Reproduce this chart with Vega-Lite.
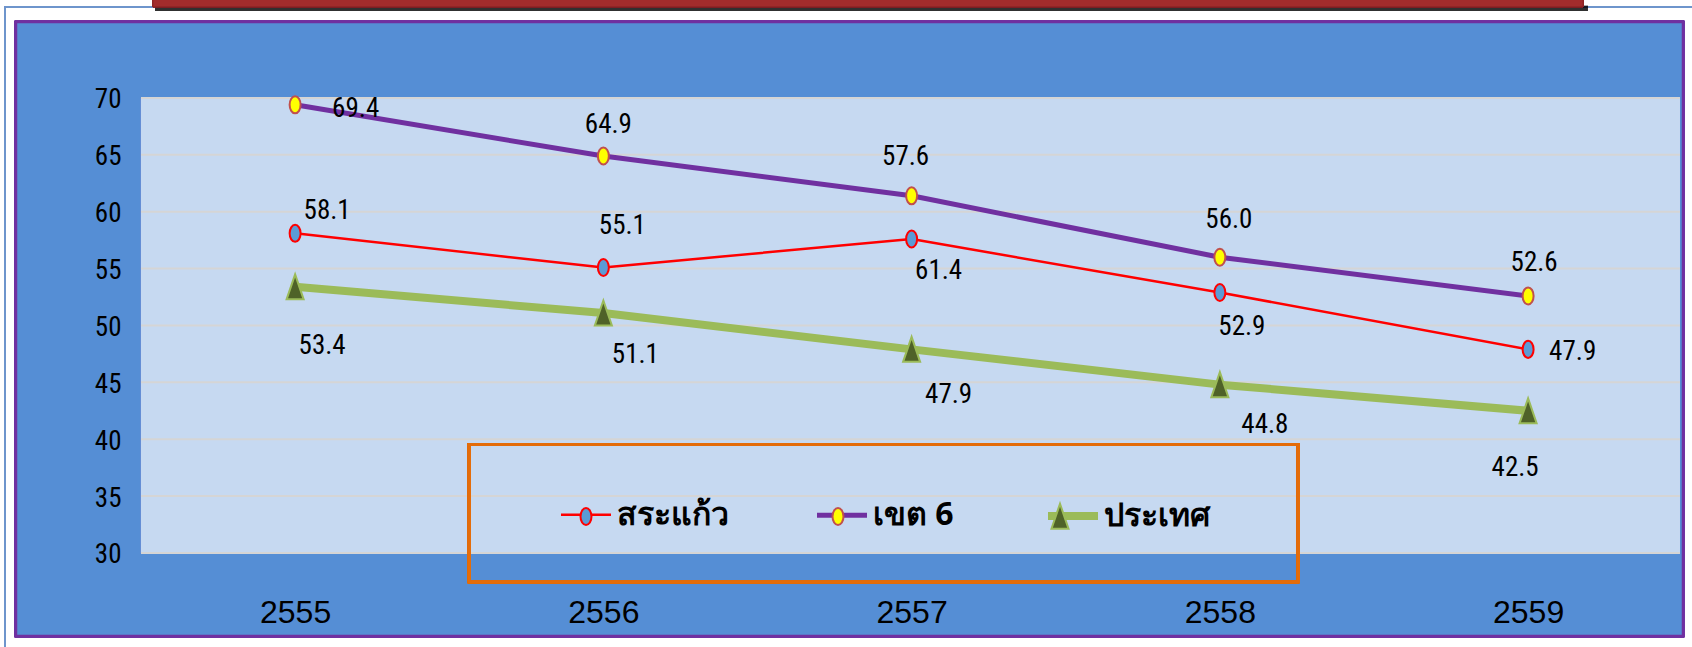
{
  "$schema": "https://vega.github.io/schema/vega-lite/v6.json",
  "width": 1692,
  "height": 647,
  "autosize": "none",
  "padding": 0,
  "background": "#FFFFFF",
  "config": {
    "view": {"stroke": null},
    "axisX": {
      "offset": -35, "domain": false, "ticks": false, "grid": false,
      "labelFont": "Liberation Sans", "labelFontSize": 32, "labelColor": "#000000",
      "labelPadding": 0, "labelBaseline": "middle", "labelFlush": false, "labelOverlap": false
    },
    "axisY": {
      "offset": -121, "domain": false, "ticks": false, "grid": false,
      "labelFont": "Roboto Condensed", "labelFontSize": 27, "labelColor": "#000000",
      "labelPadding": 0, "labelOffset": 2, "labelFlush": false, "labelOverlap": false
    },
    "legend": {
      "orient": "none", "legendX": 557, "legendY": 487, "direction": "horizontal", "columns": 3,
      "padding": 0, "labelFont": "Noto Sans", "labelFontSize": 32, "labelFontWeight": "bold",
      "labelColor": "#000000", "labelOffset": 2, "columnPadding": 78, "labelLimit": 0
    },
    "text": {"font": "Roboto Condensed", "fontSize": 27, "fill": "#000000", "baseline": "middle"}
  },
  "data": {
    "values": [
      {"year": 2555, "series": "สระแก้ว", "value": 58.1, "label": "58.1"},
      {"year": 2556, "series": "สระแก้ว", "value": 55.1, "label": "55.1"},
      {"year": 2557, "series": "สระแก้ว", "value": 57.6, "label": "61.4"},
      {"year": 2558, "series": "สระแก้ว", "value": 52.9, "label": "52.9"},
      {"year": 2559, "series": "สระแก้ว", "value": 47.9, "label": "47.9"},
      {"year": 2555, "series": "เขต 6", "value": 69.4, "label": "69.4"},
      {"year": 2556, "series": "เขต 6", "value": 64.9, "label": "64.9"},
      {"year": 2557, "series": "เขต 6", "value": 61.4, "label": "57.6"},
      {"year": 2558, "series": "เขต 6", "value": 56.0, "label": "56.0"},
      {"year": 2559, "series": "เขต 6", "value": 52.6, "label": "52.6"},
      {"year": 2555, "series": "ประเทศ", "value": 53.4, "label": "53.4"},
      {"year": 2556, "series": "ประเทศ", "value": 51.1, "label": "51.1"},
      {"year": 2557, "series": "ประเทศ", "value": 47.9, "label": "47.9"},
      {"year": 2558, "series": "ประเทศ", "value": 44.8, "label": "44.8"},
      {"year": 2559, "series": "ประเทศ", "value": 42.5, "label": "42.5"}
    ]
  },
  "layer": [
    {
      "mark": {"type": "rect", "fill": "#558ED5", "stroke": "#7030A0", "strokeWidth": 2.5},
      "encoding": {
        "x": {"datum": 2554.0945, "type": "quantitative", "scale": {"domain": [2554.0426, 2559.5317], "nice": false, "zero": false}},
        "x2": {"datum": 2559.5025},
        "y": {"datum": 76.681, "type": "quantitative", "scale": {"domain": [21.736, 78.615], "nice": false, "zero": false}},
        "y2": {"datum": 22.703}
      }
    },
    {
      "mark": {"type": "rect", "fill": "#C6D9F1"},
      "encoding": {
        "x": {"datum": 2554.5, "type": "quantitative"},
        "x2": {"datum": 2559.4927},
        "y": {"datum": 70, "type": "quantitative"},
        "y2": {"datum": 30}
      }
    },
    {
      "data": {"values": [{"g": 30}, {"g": 35}, {"g": 40}, {"g": 45}, {"g": 50}, {"g": 55}, {"g": 60}, {"g": 65}, {"g": 70}]},
      "mark": {"type": "rule", "stroke": "#D5D5D5", "strokeWidth": 2},
      "encoding": {
        "x": {"datum": 2554.5, "type": "quantitative"},
        "x2": {"datum": 2559.4927},
        "y": {"field": "g", "type": "quantitative"}
      }
    },
    {
      "mark": {"type": "rect", "filled": false, "stroke": "#E46C0A", "strokeWidth": 2.5},
      "encoding": {
        "x": {"datum": 2555.5641, "type": "quantitative"},
        "x2": {"datum": 2558.2535},
        "y": {"datum": 39.55, "type": "quantitative"},
        "y2": {"datum": 27.451}
      }
    },
    {
      "mark": {"type": "line", "strokeCap": "round", "strokeJoin": "round"},
      "encoding": {
        "x": {
          "field": "year", "type": "quantitative",
          "scale": {"domain": [2554.0426, 2559.5317], "nice": false, "zero": false},
          "axis": {"orient": "bottom", "values": [2555, 2556, 2557, 2558, 2559], "format": "d", "title": null, "zindex": 3}
        },
        "y": {
          "field": "value", "type": "quantitative",
          "scale": {"domain": [21.736, 78.615], "nice": false, "zero": false},
          "axis": {"orient": "left", "values": [30, 35, 40, 45, 50, 55, 60, 65, 70], "title": null, "zindex": 3}
        },
        "color": {
          "field": "series", "type": "nominal",
          "scale": {"domain": ["สระแก้ว", "เขต 6", "ประเทศ"], "range": ["#FF0000", "#7030A0", "#9BBB59"]},
          "legend": {"title": null, "symbolType": "stroke", "symbolSize": 2500}
        },
        "strokeWidth": {
          "field": "series", "type": "ordinal",
          "scale": {"type": "ordinal", "domain": ["สระแก้ว", "เขต 6", "ประเทศ"], "range": [2.5, 5, 8]},
          "legend": {"title": null, "symbolType": "stroke", "symbolSize": 2500}
        }
      }
    },
    {
      "mark": {"type": "point", "filled": true, "size": 3136, "strokeWidth": 2, "opacity": 1},
      "encoding": {
        "x": {"field": "year", "type": "quantitative"},
        "y": {"field": "value", "type": "quantitative"},
        "fill": {
          "field": "series", "type": "nominal",
          "scale": {"domain": ["สระแก้ว", "เขต 6", "ประเทศ", "-"], "range": ["#5B9BD5", "#FFFF00", "#4F6228", "#FFFFFF"]},
          "legend": {
            "title": null, "values": ["สระแก้ว", "เขต 6", "ประเทศ"],
            "symbolSize": 3136, "symbolStrokeWidth": 2, "symbolOpacity": 1, "labelOpacity": 0
          }
        },
        "stroke": {
          "field": "series", "type": "nominal",
          "scale": {"domain": ["สระแก้ว", "เขต 6", "ประเทศ", "-"], "range": ["#FF0000", "#C0504D", "#9BBB59", "#FFFFFF"]},
          "legend": {
            "title": null, "values": ["สระแก้ว", "เขต 6", "ประเทศ"],
            "symbolSize": 3136, "symbolStrokeWidth": 2, "symbolOpacity": 1, "labelOpacity": 0
          }
        },
        "shape": {
          "field": "series", "type": "nominal",
          "scale": {"domain": ["สระแก้ว", "เขต 6", "ประเทศ", "-"], "range": [
            "M-0.902,0M0.902,0M-0.196,0A0.196,0.304,0,1,0,0.196,0A0.196,0.304,0,1,0,-0.196,0Z",
            "M-0.955,0M0.955,0M-0.196,0A0.196,0.304,0,1,0,0.196,0A0.196,0.304,0,1,0,-0.196,0Z",
            "M-1,0M1,0M0,-0.446L0.304,0.446L-0.304,0.446Z",
            "circle"
          ]},
          "legend": {
            "title": null, "values": ["สระแก้ว", "เขต 6", "ประเทศ"],
            "symbolSize": 3136, "symbolStrokeWidth": 2, "symbolOpacity": 1, "labelOpacity": 0
          }
        }
      }
    },
    {"transform": [{"filter": "datum.series === 'เขต 6' && datum.year === 2555"}], "mark": {"type": "text", "align": "left", "dx": 37, "dy": 4}, "encoding": {"x": {"field": "year", "type": "quantitative"}, "y": {"field": "value", "type": "quantitative"}, "text": {"field": "label"}}},
    {"transform": [{"filter": "datum.series === 'เขต 6' && datum.year === 2556"}], "mark": {"type": "text", "align": "center", "dx": 5, "dy": -31}, "encoding": {"x": {"field": "year", "type": "quantitative"}, "y": {"field": "value", "type": "quantitative"}, "text": {"field": "label"}}},
    {"transform": [{"filter": "datum.series === 'เขต 6' && datum.year === 2557"}], "mark": {"type": "text", "align": "center", "dx": -6, "dy": -39}, "encoding": {"x": {"field": "year", "type": "quantitative"}, "y": {"field": "value", "type": "quantitative"}, "text": {"field": "label"}}},
    {"transform": [{"filter": "datum.series === 'เขต 6' && datum.year === 2558"}], "mark": {"type": "text", "align": "center", "dx": 9, "dy": -37}, "encoding": {"x": {"field": "year", "type": "quantitative"}, "y": {"field": "value", "type": "quantitative"}, "text": {"field": "label"}}},
    {"transform": [{"filter": "datum.series === 'เขต 6' && datum.year === 2559"}], "mark": {"type": "text", "align": "center", "dx": 6, "dy": -33}, "encoding": {"x": {"field": "year", "type": "quantitative"}, "y": {"field": "value", "type": "quantitative"}, "text": {"field": "label"}}},
    {"transform": [{"filter": "datum.series === 'สระแก้ว' && datum.year === 2555"}], "mark": {"type": "text", "align": "center", "dx": 32, "dy": -22}, "encoding": {"x": {"field": "year", "type": "quantitative"}, "y": {"field": "value", "type": "quantitative"}, "text": {"field": "label"}}},
    {"transform": [{"filter": "datum.series === 'สระแก้ว' && datum.year === 2556"}], "mark": {"type": "text", "align": "center", "dx": 19, "dy": -41}, "encoding": {"x": {"field": "year", "type": "quantitative"}, "y": {"field": "value", "type": "quantitative"}, "text": {"field": "label"}}},
    {"transform": [{"filter": "datum.series === 'สระแก้ว' && datum.year === 2557"}], "mark": {"type": "text", "align": "center", "dx": 27, "dy": 32}, "encoding": {"x": {"field": "year", "type": "quantitative"}, "y": {"field": "value", "type": "quantitative"}, "text": {"field": "label"}}},
    {"transform": [{"filter": "datum.series === 'สระแก้ว' && datum.year === 2558"}], "mark": {"type": "text", "align": "center", "dx": 22, "dy": 34}, "encoding": {"x": {"field": "year", "type": "quantitative"}, "y": {"field": "value", "type": "quantitative"}, "text": {"field": "label"}}},
    {"transform": [{"filter": "datum.series === 'สระแก้ว' && datum.year === 2559"}], "mark": {"type": "text", "align": "left", "dx": 21, "dy": 3}, "encoding": {"x": {"field": "year", "type": "quantitative"}, "y": {"field": "value", "type": "quantitative"}, "text": {"field": "label"}}},
    {"transform": [{"filter": "datum.series === 'ประเทศ' && datum.year === 2555"}], "mark": {"type": "text", "align": "center", "dx": 27, "dy": 59}, "encoding": {"x": {"field": "year", "type": "quantitative"}, "y": {"field": "value", "type": "quantitative"}, "text": {"field": "label"}}},
    {"transform": [{"filter": "datum.series === 'ประเทศ' && datum.year === 2556"}], "mark": {"type": "text", "align": "center", "dx": 32, "dy": 42}, "encoding": {"x": {"field": "year", "type": "quantitative"}, "y": {"field": "value", "type": "quantitative"}, "text": {"field": "label"}}},
    {"transform": [{"filter": "datum.series === 'ประเทศ' && datum.year === 2557"}], "mark": {"type": "text", "align": "center", "dx": 37, "dy": 46}, "encoding": {"x": {"field": "year", "type": "quantitative"}, "y": {"field": "value", "type": "quantitative"}, "text": {"field": "label"}}},
    {"transform": [{"filter": "datum.series === 'ประเทศ' && datum.year === 2558"}], "mark": {"type": "text", "align": "center", "dx": 45, "dy": 40}, "encoding": {"x": {"field": "year", "type": "quantitative"}, "y": {"field": "value", "type": "quantitative"}, "text": {"field": "label"}}},
    {"transform": [{"filter": "datum.series === 'ประเทศ' && datum.year === 2559"}], "mark": {"type": "text", "align": "center", "dx": -13, "dy": 57}, "encoding": {"x": {"field": "year", "type": "quantitative"}, "y": {"field": "value", "type": "quantitative"}, "text": {"field": "label"}}},
    {
      "mark": {"type": "rect", "filled": false, "stroke": "#6F95CC", "strokeWidth": 1.5},
      "encoding": {
        "x": {"datum": 2554.0588, "type": "quantitative"},
        "x2": {"datum": 2560.2},
        "y": {"datum": 78.0, "type": "quantitative"},
        "y2": {"datum": 18}
      }
    },
    {
      "mark": {"type": "rect", "fill": "#000000", "opacity": 0.1},
      "encoding": {
        "x": {"datum": 2554.5454, "type": "quantitative"},
        "x2": {"datum": 2559.1942},
        "y": {"datum": 78.1, "type": "quantitative"},
        "y2": {"datum": 77.65}
      }
    },
    {
      "mark": {"type": "rect", "fill": "#A22C2C", "stroke": "#8E2626", "strokeWidth": 1},
      "encoding": {
        "x": {"datum": 2554.5389, "type": "quantitative"},
        "x2": {"datum": 2559.178},
        "y": {"datum": 80, "type": "quantitative"},
        "y2": {"datum": 78.03}
      }
    }
  ]
}
